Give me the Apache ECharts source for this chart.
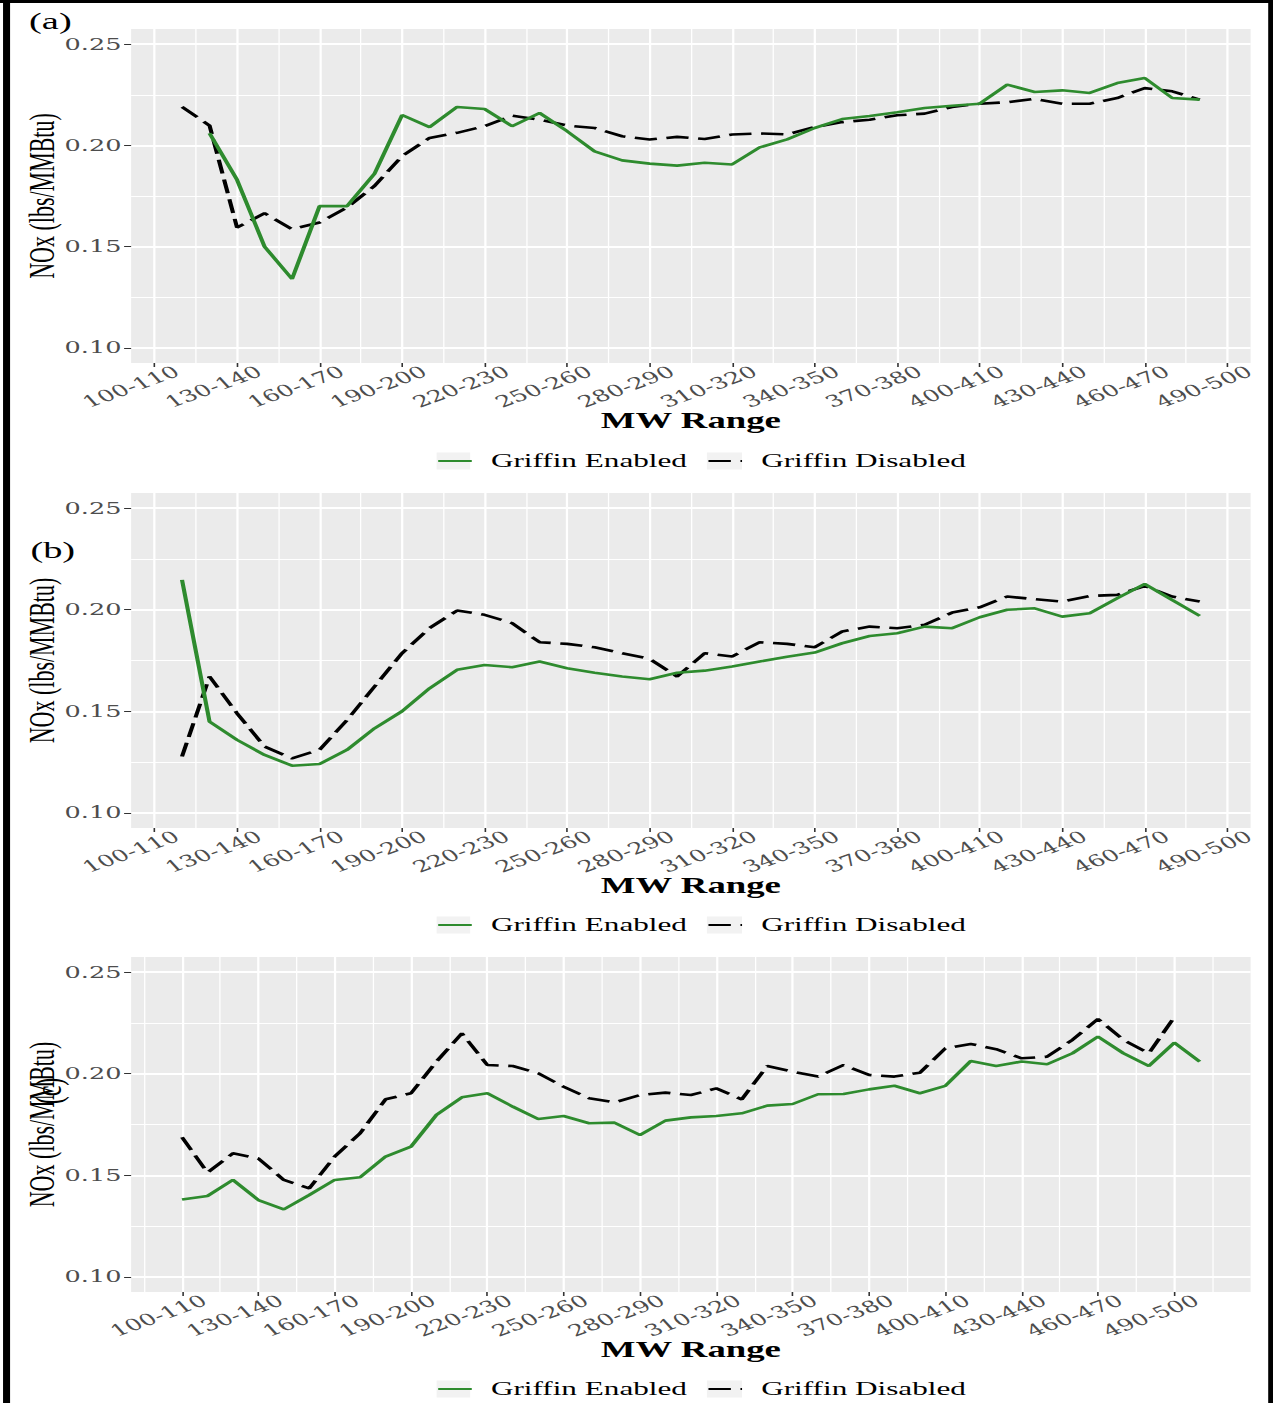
<!DOCTYPE html>
<html>
<head>
<meta charset="utf-8">
<script src="https://cdn.jsdelivr.net/npm/echarts@6/dist/echarts.min.js"></script>
<style>
html,body{margin:0;padding:0;background:#fff;overflow:hidden;}
#wrap{width:1273px;height:1403px;overflow:hidden;position:relative;background:#fff;}
#chart{width:796px;height:1403px;transform:scaleX(1.599246);transform-origin:0 0;}
</style>
</head>
<body>
<div id="wrap"><div id="chart"></div></div>
<script>
// ---------------- DATA ----------------
const TICK_VALUES = [100,130,160,190,220,250,280,310,340,370,400,430,460,490];
const TICK_LABELS = ['100-110','130-140','160-170','190-200','220-230','250-260','280-290','310-320','340-350','370-380','400-410','430-440','460-470','490-500'];
const MINOR_X = [85,115,145,175,205,235,265,295,325,355,385,415,445,475,505];
const Y_TICKS = [0.10,0.15,0.20,0.25];
const Y_MINOR = [0.125,0.175,0.225];
const SERIES_NAMES = ['Griffin Enabled','Griffin Disabled'];

// Panel (a)
const mwA_enabled = [120,130,140,150,160,170,180,190,200,210,220,230,240,250,260,270,280,290,300,310,320,330,340,350,360,370,380,390,400,410,420,430,440,450,460,470,480];
const noxA_enabled = [0.206,0.183,0.150,0.134,0.170,0.170,0.186,0.215,0.209,0.219,0.218,0.2095,0.216,0.207,0.197,0.1926,0.191,0.190,0.1914,0.1906,0.199,0.203,0.2086,0.213,0.2145,0.2164,0.2185,0.2196,0.2206,0.230,0.2264,0.2272,0.2259,0.2308,0.2333,0.2234,0.2226];
const mwA_disabled = [110,120,130,140,150,160,170,180,190,200,210,220,230,240,250,260,270,280,290,300,310,320,330,340,350,360,370,380,390,400,410,420,430,440,450,460,470,480];
const noxA_disabled = [0.219,0.2098,0.1594,0.1665,0.1586,0.1619,0.1693,0.180,0.1947,0.2037,0.2062,0.2095,0.2147,0.2127,0.2098,0.2086,0.2045,0.2029,0.2042,0.2032,0.2054,0.2059,0.2054,0.2091,0.2115,0.2127,0.2149,0.2157,0.219,0.2206,0.2213,0.223,0.2206,0.2206,0.2234,0.2283,0.2267,0.2226];

// Panel (b)
const mwB = [110,120,130,140,150,160,170,180,190,200,210,220,230,240,250,260,270,280,290,300,310,320,330,340,350,360,370,380,390,400,410,420,430,440,450,460,470,480];
const noxB_enabled = [0.2147,0.1449,0.1359,0.1285,0.1232,0.124,0.131,0.1416,0.150,0.1613,0.1704,0.1728,0.1717,0.1745,0.1712,0.169,0.1671,0.1658,0.169,0.170,0.172,0.1745,0.1769,0.1789,0.1835,0.1871,0.1884,0.1917,0.1909,0.1963,0.200,0.2007,0.1966,0.1983,0.2057,0.2127,0.2048,0.197];
const noxB_disabled = [0.1277,0.1671,0.149,0.1326,0.1268,0.131,0.1457,0.1622,0.1786,0.191,0.1996,0.1975,0.1934,0.184,0.1832,0.1815,0.1786,0.1758,0.1671,0.1786,0.177,0.184,0.1832,0.1815,0.1893,0.1917,0.1909,0.1926,0.1986,0.2012,0.2065,0.2052,0.204,0.2068,0.2073,0.2117,0.2065,0.204];

// Panel (c)
const mwC_enabled = [100,110,120,130,140,150,160,170,180,190,200,210,220,230,240,250,260,270,280,290,300,310,320,330,340,350,360,370,380,390,400,410,420,430,440,450,460,470,480,490,500];
const noxC_enabled = [0.1381,0.1398,0.1477,0.1378,0.1332,0.1403,0.1477,0.149,0.1592,0.1641,0.1797,0.1884,0.1904,0.1838,0.1777,0.1792,0.1756,0.1759,0.1698,0.1769,0.1785,0.1792,0.1805,0.1843,0.1851,0.1899,0.190,0.1923,0.1941,0.1904,0.194,0.2063,0.2038,0.206,0.2047,0.2101,0.2183,0.2101,0.2038,0.2153,0.206];
const mwC_disabled = [100,110,120,130,140,150,160,170,180,190,200,210,220,230,240,250,260,270,280,290,300,310,320,330,340,350,360,370,380,390,400,410,420,430,440,450,460,470,480,490];
const noxC_disabled = [0.1687,0.1513,0.1608,0.1583,0.1477,0.1435,0.1592,0.1707,0.1874,0.1904,0.206,0.2199,0.2043,0.2038,0.2002,0.1936,0.1879,0.1859,0.1895,0.1907,0.1895,0.1928,0.1874,0.2038,0.201,0.1986,0.2043,0.1994,0.1986,0.2005,0.2125,0.2147,0.2121,0.2076,0.2084,0.2167,0.227,0.2167,0.2101,0.2278];

// ---------------- LAYOUT / STYLE ----------------
const CW = 796, CH = 1403;
const LEFT = 82, RIGHT = 14, PLOT_W = CW - LEFT - RIGHT;
const GREEN = '#2e8b2e';
const panels = [
  {tag:'(a)', top:29, height:334, min:91.5, max:498.5, legendY:461,
   en:[mwA_enabled, noxA_enabled], dis:[mwA_disabled, noxA_disabled]},
  {tag:'(b)', top:493, height:335, min:91.5, max:498.5, legendY:925,
   en:[mwB, noxB_enabled], dis:[mwB, noxB_disabled]},
  {tag:'(c)', top:957, height:335, min:80, max:520, legendY:1389,
   en:[mwC_enabled, noxC_enabled], dis:[mwC_disabled, noxC_disabled]}
];

const zip = (xs, ys) => xs.map((x, i) => [x, ys[i]]);
const tickFont = {fontFamily:'DejaVu Serif', fontSize:16, color:'#4d4d4d'};

const grids = [], xAxes = [], yAxes = [], series = [], legends = [], graphics = [];

panels.forEach((p, i) => {
  grids.push({left:LEFT, width:PLOT_W, top:p.top, height:p.height, show:true,
              backgroundColor:'#EBEBEB', borderWidth:0, containLabel:false});
  const shift = 14 * (p.max - p.min) / PLOT_W;   // label anchor offset (ggplot hjust)
  const labelVals = TICK_VALUES.map(v => v + shift);
  xAxes.push({
    type:'value', gridIndex:i, min:p.min, max:p.max, position:'bottom',
    axisLine:{show:false},
    axisTick:{show:true, customValues:TICK_VALUES, length:4, lineStyle:{color:'#333', width:1}},
    axisLabel:Object.assign({customValues:labelVals, rotate:30, margin:7,
      formatter:(v) => {
        let best = 0;
        for (let k = 0; k < labelVals.length; k++) {
          if (Math.abs(labelVals[k] - v) < Math.abs(labelVals[best] - v)) best = k;
        }
        return TICK_LABELS[best];
      }}, tickFont),
    splitLine:{show:true, lineStyle:{color:'#FFFFFF', width:1.4}},
    name:'MW Range', nameLocation:'middle', nameGap:46, nameMoveOverlap:false,
    nameTextStyle:{fontFamily:'Liberation Serif', fontWeight:'bold', fontSize:23, color:'#000'}
  });
  xAxes.push({
    type:'value', gridIndex:i, min:p.min, max:p.max, position:'top',
    axisLine:{show:false}, axisLabel:{show:false},
    axisTick:{show:false, customValues:MINOR_X.filter(v => v > p.min && v < p.max)},
    splitLine:{show:true, lineStyle:{color:'#FFFFFF', width:0.8}}
  });
  yAxes.push({
    type:'value', gridIndex:i, min:0.0925, max:0.2575, position:'left',
    axisLine:{show:false},
    axisTick:{show:true, customValues:Y_TICKS, length:4.4, lineStyle:{color:'#333', width:1}},
    axisLabel:Object.assign({customValues:Y_TICKS, margin:6, formatter:(v) => v.toFixed(2)}, tickFont),
    splitLine:{show:true, lineStyle:{color:'#FFFFFF', width:2}},
    name:'NOx (lbs/MMBtu)', nameLocation:'middle', nameGap:45, nameRotate:90, nameMoveOverlap:false,
    nameTextStyle:{fontFamily:'Liberation Serif', fontSize:22, color:'#000'}
  });
  yAxes.push({
    type:'value', gridIndex:i, min:0.0925, max:0.2575, position:'right',
    axisLine:{show:false}, axisLabel:{show:false},
    axisTick:{show:false, customValues:Y_MINOR},
    splitLine:{show:true, lineStyle:{color:'#FFFFFF', width:1}}
  });

  series.push({
    type:'line', name:SERIES_NAMES[0], xAxisIndex:2*i, yAxisIndex:2*i,
    data:zip(p.en[0], p.en[1]), symbol:'none', z:4,
    lineStyle:{color:GREEN, width:2.6}, itemStyle:{color:GREEN}
  });
  series.push({
    type:'line', name:SERIES_NAMES[1], xAxisIndex:2*i, yAxisIndex:2*i,
    data:zip(p.dis[0], p.dis[1]), symbol:'none', z:3,
    lineStyle:{color:'#000', width:2.6, type:[14,6]}, itemStyle:{color:'#000'}
  });

  const legendBase = {
    orient:'horizontal', padding:0, itemWidth:21, itemHeight:17, itemGap:0,
    top:p.legendY - 10, selectedMode:false, z:10,
    itemStyle:{opacity:0},
    textStyle:{fontFamily:'Liberation Serif', fontSize:19.5, color:'#000', padding:[0,0,0,7]}
  };
  legends.push(Object.assign({}, legendBase, {left:273, data:[SERIES_NAMES[0]]}));
  legends.push(Object.assign({}, legendBase, {left:442, data:[SERIES_NAMES[1]]}));

  graphics.push({type:'rect', shape:{x:273, y:p.legendY - 8.5, width:21, height:17}, style:{fill:'#F2F2F2'}, z:1});
  graphics.push({type:'rect', shape:{x:442, y:p.legendY - 8.5, width:22, height:17}, style:{fill:'#F2F2F2'}, z:1});
});

graphics.push({type:'text', x:31.5, y:21, z:20, style:{text:'(a)', font:'24px "Liberation Serif"', fill:'#000', textAlign:'center', textVerticalAlign:'middle'}});
graphics.push({type:'text', x:33, y:550, z:20, style:{text:'(b)', font:'24px "Liberation Serif"', fill:'#000', textAlign:'center', textVerticalAlign:'middle'}});
graphics.push({type:'text', x:30, y:1091, z:20, rotation:Math.PI/2, style:{text:'(c)', font:'24px "Liberation Serif"', fill:'#000', textAlign:'center', textVerticalAlign:'middle'}});
graphics.push({type:'line', shape:{x1:0, y1:1.5, x2:CW, y2:1.5}, style:{stroke:'#000', lineWidth:3}, z:30});
graphics.push({type:'line', shape:{x1:4.1, y1:0, x2:4.1, y2:CH}, style:{stroke:'#000', lineWidth:4.4}, z:30});
graphics.push({type:'line', shape:{x1:794.5, y1:0, x2:794.5, y2:CH}, style:{stroke:'#000', lineWidth:3}, z:30});

const chart = echarts.init(document.getElementById('chart'), null, {renderer:'svg', width:CW, height:CH});
chart.setOption({
  animation:false,
  backgroundColor:'#fff',
  grid:grids, xAxis:xAxes, yAxis:yAxes, series:series, legend:legends,
  graphic:{elements:graphics}
});
</script>
</body>
</html>
